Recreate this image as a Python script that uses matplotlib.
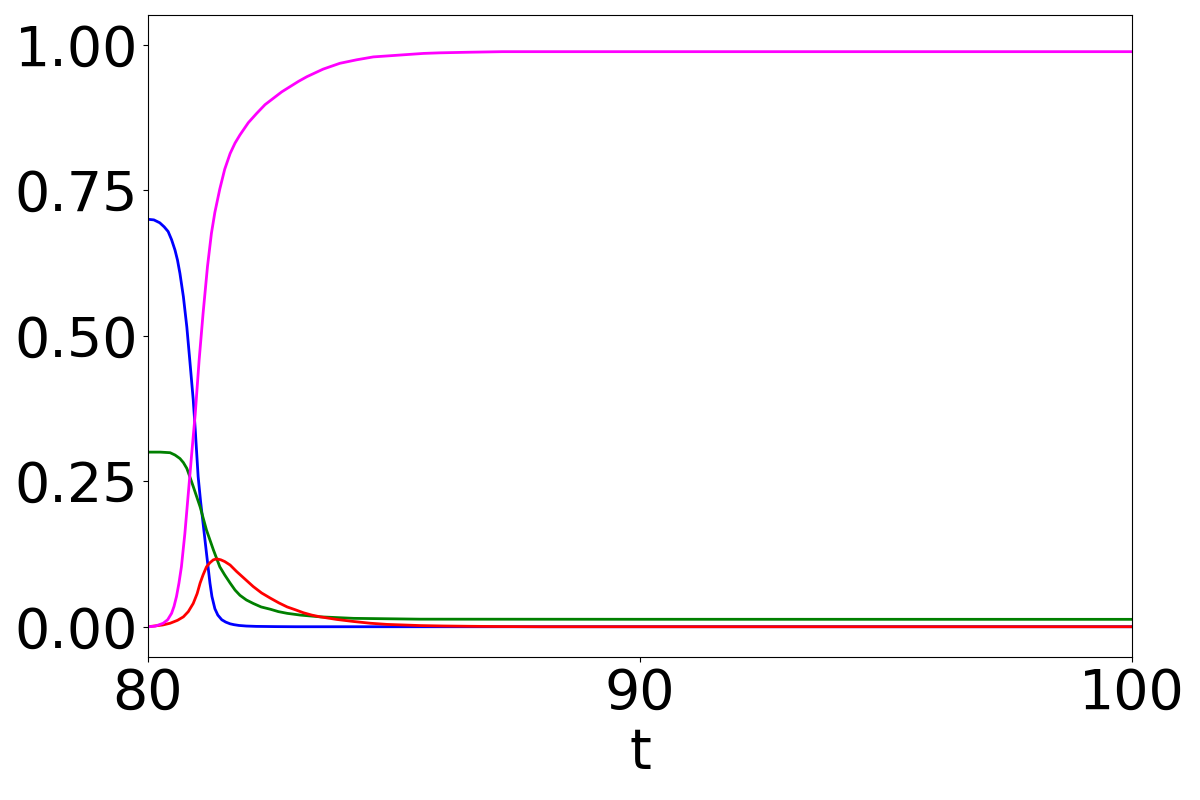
import matplotlib
matplotlib.use("Agg")
import matplotlib.pyplot as plt

# values
t_blue = [80.0, 80.12, 80.24, 80.33, 80.41, 80.48, 80.55, 80.60, 80.65, 80.72,
          80.79, 80.85, 80.92, 80.96, 81.02, 81.07, 81.12, 81.19, 81.26, 81.30,
          81.36, 81.42, 81.50, 81.58, 81.67, 81.75, 81.85, 82.0, 82.2, 82.6,
          83.0, 100.0]
blue = [0.700, 0.699, 0.694, 0.687, 0.679, 0.665, 0.647, 0.630, 0.607, 0.567,
        0.515, 0.458, 0.390, 0.340, 0.258, 0.215, 0.178, 0.126, 0.075, 0.052,
        0.031, 0.020, 0.012, 0.008, 0.005, 0.0035, 0.0022, 0.0012, 0.0006, 0.0002,
        0.0, 0.0]

t_green = [80.0, 80.25, 80.45, 80.55, 80.65, 80.72, 80.79, 80.85, 80.92, 81.06,
           81.19, 81.33, 81.46, 81.56, 81.67, 81.77, 81.87, 82.0, 82.14, 82.3,
           82.49, 82.65, 82.83, 83.1, 83.5, 84.18, 85.53, 90.0, 100.0]
green = [0.300, 0.300, 0.299, 0.295, 0.289, 0.282, 0.272, 0.258, 0.241, 0.206,
         0.166, 0.132, 0.103, 0.089, 0.075, 0.063, 0.054, 0.046, 0.040, 0.034,
         0.030, 0.026, 0.023, 0.020, 0.017, 0.0144, 0.013, 0.0128, 0.0127]

t_red = [80.0, 80.3, 80.45, 80.6, 80.72, 80.82, 80.92, 81.0, 81.06, 81.12,
         81.19, 81.26, 81.33, 81.40, 81.48, 81.56, 81.67, 81.80, 81.97, 82.14,
         82.31, 82.49, 82.66, 82.83, 83.0, 83.16, 83.33, 83.5, 83.84, 84.18,
         84.52, 84.86, 85.2, 85.53, 86.0, 86.5, 87.2, 88.0, 100.0]
red = [0.0, 0.003, 0.006, 0.011, 0.017, 0.026, 0.040, 0.057, 0.075, 0.089,
       0.103, 0.110, 0.115, 0.1165, 0.115, 0.112, 0.106, 0.095, 0.082, 0.069,
       0.058, 0.049, 0.041, 0.034, 0.029, 0.024, 0.020, 0.017, 0.0125, 0.009,
       0.006, 0.004, 0.003, 0.002, 0.0013, 0.0008, 0.0003, 0.0, 0.0]

t_magenta = [80.0, 80.15, 80.31, 80.40, 80.48, 80.53, 80.58, 80.63, 80.68, 80.75,
             80.82, 80.89, 80.96, 81.04, 81.12, 81.21, 81.29, 81.36, 81.46, 81.56,
             81.67, 81.77, 81.87, 82.04, 82.21, 82.38, 82.55, 82.72, 82.89, 83.06,
             83.23, 83.56, 83.90, 84.24, 84.58, 84.92, 85.26, 85.6, 85.93, 86.5,
             87.2, 88.0, 100.0]
magenta = [0.0, 0.001, 0.006, 0.012, 0.023, 0.035, 0.052, 0.075, 0.103, 0.160,
           0.229, 0.298, 0.365, 0.458, 0.538, 0.619, 0.676, 0.712, 0.752, 0.786,
           0.813, 0.831, 0.845, 0.866, 0.882, 0.897, 0.908, 0.919, 0.928, 0.937,
           0.945, 0.958, 0.968, 0.974, 0.979, 0.981, 0.983, 0.985, 0.986, 0.987,
           0.988, 0.988, 0.988]

x_ticks = [80, 90, 100]
y_ticks = [0.0, 0.25, 0.5, 0.75, 1.0]

fig, ax = plt.subplots(figsize=(12, 8), dpi=100)
fig.subplots_adjust(left=0.1233, right=0.9433, bottom=0.17875, top=0.98125)

ax.plot(t_blue, blue, color="blue", lw=2)
ax.plot(t_green, green, color="green", lw=2)
ax.plot(t_red, red, color="red", lw=2)
ax.plot(t_magenta, magenta, color="magenta", lw=2)

ax.set_xlim(80, 100)
ax.set_ylim(-0.052, 1.051)
ax.set_xticks(x_ticks)
ax.set_yticks(y_ticks)
ax.set_yticklabels([f"{v:.2f}" for v in y_ticks])
ax.tick_params(labelsize=40)
ax.set_xlabel("t", fontsize=40)

plt.savefig("out.png", dpi=100)
plt.close()
